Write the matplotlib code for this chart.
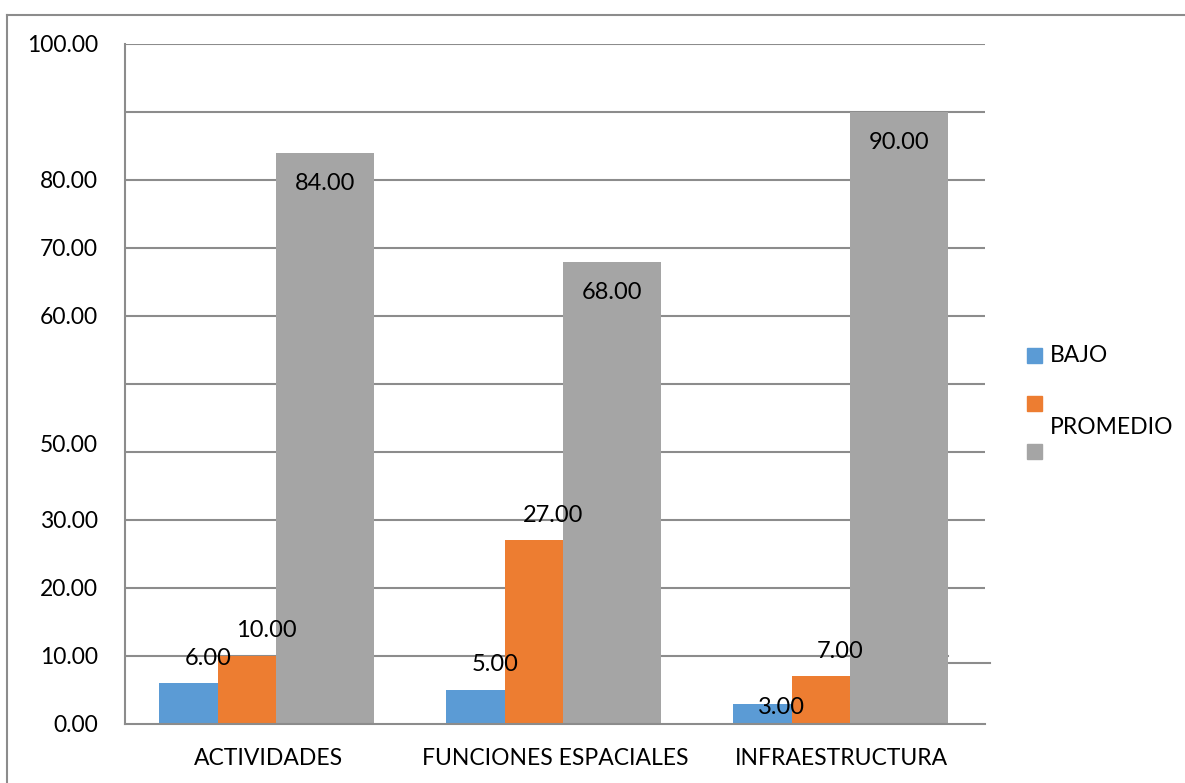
import numpy as np
import matplotlib.pyplot as plt
from matplotlib.lines import Line2D
from matplotlib.patches import Rectangle

plt.rcParams['font.family'] = ['Lato', 'DejaVu Sans']

# Data
categories = ['ACTIVIDADES', 'FUNCIONES ESPACIALES', 'INFRAESTRUCTURA']
bajo = [6.00, 5.00, 3.00]
promedio = [10.00, 27.00, 7.00]
alto = [84.00, 68.00, 90.00]
series_names = ['BAJO', 'PROMEDIO', '']
colors = ['#5B9BD5', '#ED7D31', '#A5A5A5']

# the y-axis labels in the original are not evenly numbered
ytick_pos = [0, 10, 20, 30, 41.2, 60, 70, 80, 100]
ytick_labels = ['0.00', '10.00', '20.00', '30.00', '50.00', '60.00', '70.00', '80.00', '100.00']

# bar layout inside each category (category units)
bar_left = [-0.380, -0.174, 0.028]
bar_width = [0.206, 0.202, 0.342]
# data label nudges (category units, value units)
label_dx = [0.067, 0.067, 0.0]
label_dy = [[3.7, 3.7, -0.6], [3.7, 3.7, 3.7], [-4.5, -4.5, -4.5]]

W, H = 1185, 783
fig = plt.figure(figsize=(W / 100, H / 100), dpi=100)
ax = fig.add_axes([125 / W, 1 - 724 / H, 860 / W, 680 / H])

x = np.arange(len(categories))
grid_c = '#8C8C8C'
cat_px = 860 / 3

# gridlines (the one at 10 breaks and drops a little after the last bar)
for g in range(10, 101, 10):
    if g == 10:
        xb = 2.5 - (985 - 948) / cat_px
        ax.plot([-0.5, xb], [g, g], color=grid_c, lw=1.5, zorder=1)
        ax.plot([xb, 2.5 + (990 - 985) / cat_px], [8.97, 8.97],
                color=grid_c, lw=1.5, zorder=1, clip_on=False)
    else:
        ax.axhline(g, color=grid_c, lw=1.5, zorder=1)

for i, vals in enumerate([bajo, promedio, alto]):
    ax.bar(x + bar_left[i], vals, width=bar_width[i], align='edge',
           color=colors[i], zorder=2)
    for j, v in enumerate(vals):
        ax.text(x[j] + bar_left[i] + bar_width[i] / 2 + label_dx[i], v + label_dy[i][j],
                f'{v:.2f}', ha='center', va='center', fontsize=17, color='black', zorder=3)

ax.set_xlim(-0.5, 2.5)
ax.set_ylim(0, 100)
ax.set_yticks(ytick_pos)
ax.set_yticklabels(ytick_labels)
ax.set_xticks(x)
ax.set_xticklabels(categories)
ax.tick_params(length=0, labelsize=16.5, colors='black')
ax.tick_params(axis='y', pad=19.5)
ax.tick_params(axis='x', pad=17)

for s in ['top', 'right']:
    ax.spines[s].set_visible(False)
ax.spines['left'].set_color(grid_c)
ax.spines['left'].set_linewidth(1.5)
ax.spines['bottom'].set_color(grid_c)
ax.spines['bottom'].set_linewidth(1.5)
ax.spines['bottom'].set_zorder(4)

# legend drawn by hand to keep the original's broken layout
leg_y = [355, 403, 451]
text_y = [355, 427, None]
for i in range(3):
    fig.patches.append(Rectangle((1027 / W, 1 - (leg_y[i] + 8) / H), 15 / W, 15 / H,
                                 transform=fig.transFigure, color=colors[i]))
    if series_names[i]:
        fig.text(1050 / W, 1 - text_y[i] / H, series_names[i], fontsize=16.5,
                 va='center', ha='left')

# outer chart border (only top and left are visible)
fig.add_artist(Line2D([7 / W, 1.0], [1 - 15 / H, 1 - 15 / H], transform=fig.transFigure,
                      color=grid_c, lw=1.5))
fig.add_artist(Line2D([7 / W, 7 / W], [1 - 15 / H, 0], transform=fig.transFigure,
                      color=grid_c, lw=1.5))

fig.savefig('out.png', dpi=100)
